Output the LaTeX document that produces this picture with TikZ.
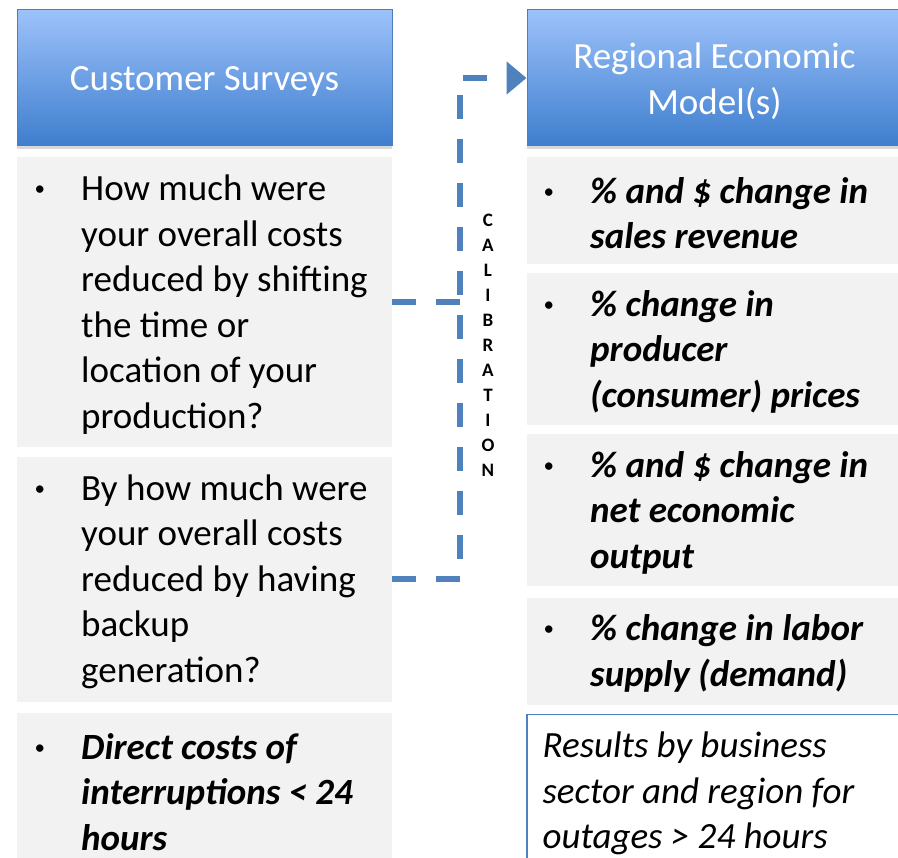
\documentclass[tikz,border=0pt]{standalone}
\usepackage{fontspec}
\setmainfont{Carlito}
\usepackage{tikz}
\usetikzlibrary{arrows.meta, positioning, shadows}

\definecolor{hdrtop}{RGB}{157,194,250}
\definecolor{hdrbot}{RGB}{62,126,206}
\definecolor{hdrline}{RGB}{74,126,187}
\definecolor{calblue}{RGB}{79,129,189}
\definecolor{boxgray}{RGB}{242,242,242}

\newcommand{\boxfont}{\fontsize{37}{45.5}\selectfont}
\newcommand{\calfont}{\fontsize{19}{25}\selectfont\bfseries}
\newcommand{\bul}{\llap{\raisebox{5pt}{\fontsize{21}{21}\selectfont\upshape\mdseries\textbullet}\hspace{36pt}}}

\begin{document}
\begin{tikzpicture}[
    x=1pt, y=-1pt,
    header/.style={rectangle, draw=hdrline, line width=1pt, top color=hdrtop, bottom color=hdrbot, minimum width=375pt, minimum height=136pt, align=center, text=white, font=\boxfont, drop shadow={shadow xshift=0pt, shadow yshift=-3pt, opacity=0.3}},
    qbox/.style={rectangle, fill=boxgray, minimum width=375pt, outer sep=0pt},
    qtext/.style={anchor=west, align=left, inner sep=0pt, font=\boxfont},
    calline/.style={calblue, line width=6pt, dash pattern=on 24pt off 20pt, -{Triangle[length=20pt, width=32pt]}}
]
\useasboundingbox (0,0) rectangle (898,858);
\clip (0,0) rectangle (898,858);

% Left column: survey questions
\node[header] (surv) at (204.5,78) {\rule{0pt}{30pt}Customer Surveys};
\node[qbox, minimum height=290pt, below=11pt of surv] (sv1) {};
\node[qbox, minimum height=244pt, below=10pt of sv1] (sv2) {};
\node[qbox, minimum height=155pt, below=11pt of sv2] (sv3) {};

\node[qtext] (sv1t) at ([xshift=64pt, yshift=-2pt]sv1.west) {\bul How much were\\your overall costs\\reduced by shifting\\the time or\\location of your\\production?};
\node[qtext] (sv2t) at ([xshift=64pt, yshift=-2pt]sv2.west) {\bul By how much were\\your overall costs\\reduced by having\\backup\\generation?};
\node[qtext, font=\boxfont\bfseries\itshape] (sv3t) at ([xshift=64pt, yshift=-2pt]sv3.west) {\bul Direct costs of\\interruptions < 24\\hours};

% Right column: model outputs
\node[header, minimum width=383pt] (model) at (718.5,78) {\rule{0pt}{32pt}\hspace{-8pt}Regional Economic\\\hspace{-8pt}Model(s)};
\node[qbox, minimum width=383pt, minimum height=107pt, below=11pt of model] (em1) {};
\node[qbox, minimum width=383pt, minimum height=152pt, below=9pt of em1] (em2) {};
\node[qbox, minimum width=383pt, minimum height=152pt, below=9pt of em2] (em3) {};
\node[qbox, minimum width=383pt, minimum height=106pt, below=12pt of em3] (em4) {};
\node[rectangle, draw=calblue, line width=1.2pt, fill=white, minimum width=383pt, minimum height=155pt, below=9pt of em4] (res) {};

\node[qtext, font=\boxfont\bfseries\itshape] (em1t) at ([xshift=63pt, yshift=-2pt]em1.west) {\bul \% and \$ change in\\sales revenue};
\node[qtext, font=\boxfont\bfseries\itshape] (em2t) at ([xshift=63pt, yshift=-2pt]em2.west) {\bul \% change in\\producer\\(consumer) prices};
\node[qtext, font=\boxfont\bfseries\itshape] (em3t) at ([xshift=63pt, yshift=-2pt]em3.west) {\bul \% and \$ change in\\net economic\\output};
\node[qtext, font=\boxfont\bfseries\itshape] (em4t) at ([xshift=63pt, yshift=-2pt]em4.west) {\bul \% change in labor\\supply (demand)};
\node[qtext, font=\boxfont\itshape] (rest) at ([xshift=16pt, yshift=-2pt]res.west) {Results by business\\sector and region for\\outages > 24 hours};

% Calibration link
\node[font=\calfont, align=center, inner sep=0pt] (cal) at (488,345) {C\\A\\L\\I\\B\\R\\A\\T\\I\\O\\N};

% === Arrows ===
\draw[calline] (sv2.east) -- ++(68pt,0) |- (model.west);
\draw[calline, -] (sv1.east) -- ++(68pt,0);
\end{tikzpicture}
\end{document}
